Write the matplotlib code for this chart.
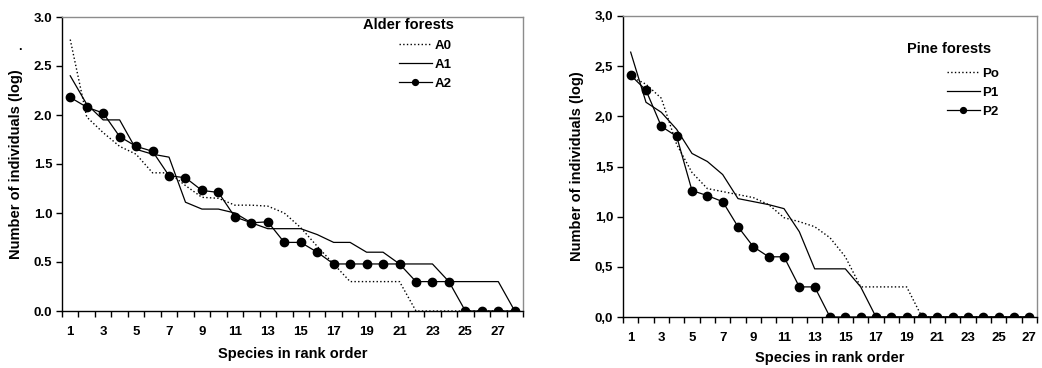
import numpy as np
import matplotlib
matplotlib.use("Agg")
import matplotlib.pyplot as plt
from matplotlib.ticker import FixedLocator, FuncFormatter

plt.rcParams['font.family'] = ['Liberation Sans', 'DejaVu Sans']
plt.rcParams['font.weight'] = 'bold'

# Alder forests, log number of individuals per rank
alder_ranks = np.arange(1, 29)
a0 = [2.77, 1.98, 1.82, 1.68, 1.60, 1.41, 1.41, 1.28, 1.16, 1.15, 1.08, 1.08, 1.07, 1.00,
      0.85, 0.66, 0.48, 0.30, 0.30, 0.30, 0.30, 0.0, 0.0, 0.0, 0.0, 0.0, 0.0, 0.0]
a1 = [2.40, 2.11, 1.95, 1.95, 1.65, 1.60, 1.57, 1.11, 1.04, 1.04, 1.00, 0.90, 0.84, 0.84,
      0.84, 0.78, 0.70, 0.70, 0.60, 0.60, 0.48, 0.48, 0.48, 0.30, 0.30, 0.30, 0.30, 0.0]
a2 = [2.18, 2.08, 2.02, 1.78, 1.68, 1.63, 1.38, 1.36, 1.23, 1.21, 0.96, 0.90, 0.91, 0.70,
      0.70, 0.60, 0.48, 0.48, 0.48, 0.48, 0.48, 0.30, 0.30, 0.30, 0.0, 0.0, 0.0, 0.0]

# Pine forests
pine_ranks = np.arange(1, 28)
p0 = [2.40, 2.32, 2.18, 1.72, 1.44, 1.28, 1.25, 1.22, 1.19, 1.12, 0.99, 0.95, 0.90, 0.79,
      0.60, 0.30, 0.30, 0.30, 0.30, 0.0, 0.0, 0.0, 0.0, 0.0, 0.0, 0.0, 0.0]
p1 = [2.64, 2.14, 2.04, 1.87, 1.63, 1.55, 1.42, 1.18, 1.15, 1.12, 1.08, 0.85, 0.48, 0.48,
      0.48, 0.30, 0.0, 0.0, 0.0, 0.0, 0.0, 0.0, 0.0, 0.0, 0.0, 0.0, 0.0]
p2 = [2.41, 2.26, 1.90, 1.80, 1.26, 1.21, 1.15, 0.90, 0.70, 0.60, 0.60, 0.30, 0.30, 0.0,
      0.0, 0.0, 0.0, 0.0, 0.0, 0.0, 0.0, 0.0, 0.0, 0.0, 0.0, 0.0, 0.0]

W, H = 1042, 368
fig = plt.figure(figsize=(W / 100, H / 100), dpi=100)

FS = 9.5
LFS = 10.5


def setup(ax, ranks, sep):
    n = len(ranks)
    ax.set_xlim(0.5, n + 0.5)
    ax.set_ylim(0, 3.0)
    ax.xaxis.set_major_locator(FixedLocator(np.arange(1, n + 1, 2)))
    ax.xaxis.set_minor_locator(FixedLocator(np.arange(0.5, n + 1, 1)))
    ax.tick_params(axis='x', which='major', length=0, pad=11, labelsize=FS)
    ax.tick_params(axis='x', which='minor', length=4, width=1, direction='out')
    ax.set_yticks(np.arange(0, 3.01, 0.5))
    ax.yaxis.set_major_formatter(FuncFormatter(lambda v, p: f"{v:.1f}".replace('.', sep)))
    ax.tick_params(axis='y', length=4, width=1, direction='out', labelsize=FS, pad=3)
    for s in ['top', 'right']:
        ax.spines[s].set_color('#8c8c8c')
        ax.spines[s].set_linewidth(1)
    for s in ['left', 'bottom']:
        ax.spines[s].set_color('black')
        ax.spines[s].set_linewidth(1)
    for lab in ax.get_xticklabels() + ax.get_yticklabels():
        lab.set_fontweight('bold')


def add_legend(ax, title, tx, ty, x, y):
    fig.text(tx / W, 1 - ty / H, title, fontsize=LFS, fontweight='bold',
             ha='center', va='center')
    leg = ax.legend(loc='upper left', bbox_to_anchor=(x / W, 1 - y / H),
                    bbox_transform=fig.transFigure, frameon=False, fontsize=FS,
                    handlelength=2.5, handletextpad=0.2,
                    labelspacing=0.52, markerscale=0.7, borderpad=0)
    return leg


ax1 = fig.add_axes([62 / W, 1 - 311 / H, (523 - 62) / W, (311 - 17) / H])
ax1.plot(alder_ranks, a0, ':', color='black', lw=1, label='A0')
ax1.plot(alder_ranks, a1, '-', color='black', lw=0.9, label='A1')
ax1.plot(alder_ranks, a2, '-', color='black', lw=0.9, marker='o', ms=6, label='A2')
setup(ax1, alder_ranks, '.')
ax1.set_ylabel('Number of individuals (log)', fontsize=LFS, fontweight='bold', labelpad=8)
ax1.set_xlabel('Species in rank order', fontsize=LFS, fontweight='bold', labelpad=6)
fig.text(20 / W, 1 - 47 / H, '.', fontsize=9, fontweight='bold', ha='center', va='center')
add_legend(ax1, 'Alder forests', 408, 25, 392, 33)

ax2 = fig.add_axes([623 / W, 1 - 317 / H, (1037 - 623) / W, (317 - 16) / H])
ax2.plot(pine_ranks, p0, ':', color='black', lw=1, label='Po')
ax2.plot(pine_ranks, p1, '-', color='black', lw=0.9, label='P1')
ax2.plot(pine_ranks, p2, '-', color='black', lw=0.9, marker='o', ms=6, label='P2')
setup(ax2, pine_ranks, ',')
ax2.set_ylabel('Number of individuals (log)', fontsize=LFS, fontweight='bold', labelpad=8)
ax2.set_xlabel('Species in rank order', fontsize=LFS, fontweight='bold', labelpad=5)
add_legend(ax2, 'Pine forests', 949, 49, 940, 61)

fig.savefig('out.png', dpi=100)
